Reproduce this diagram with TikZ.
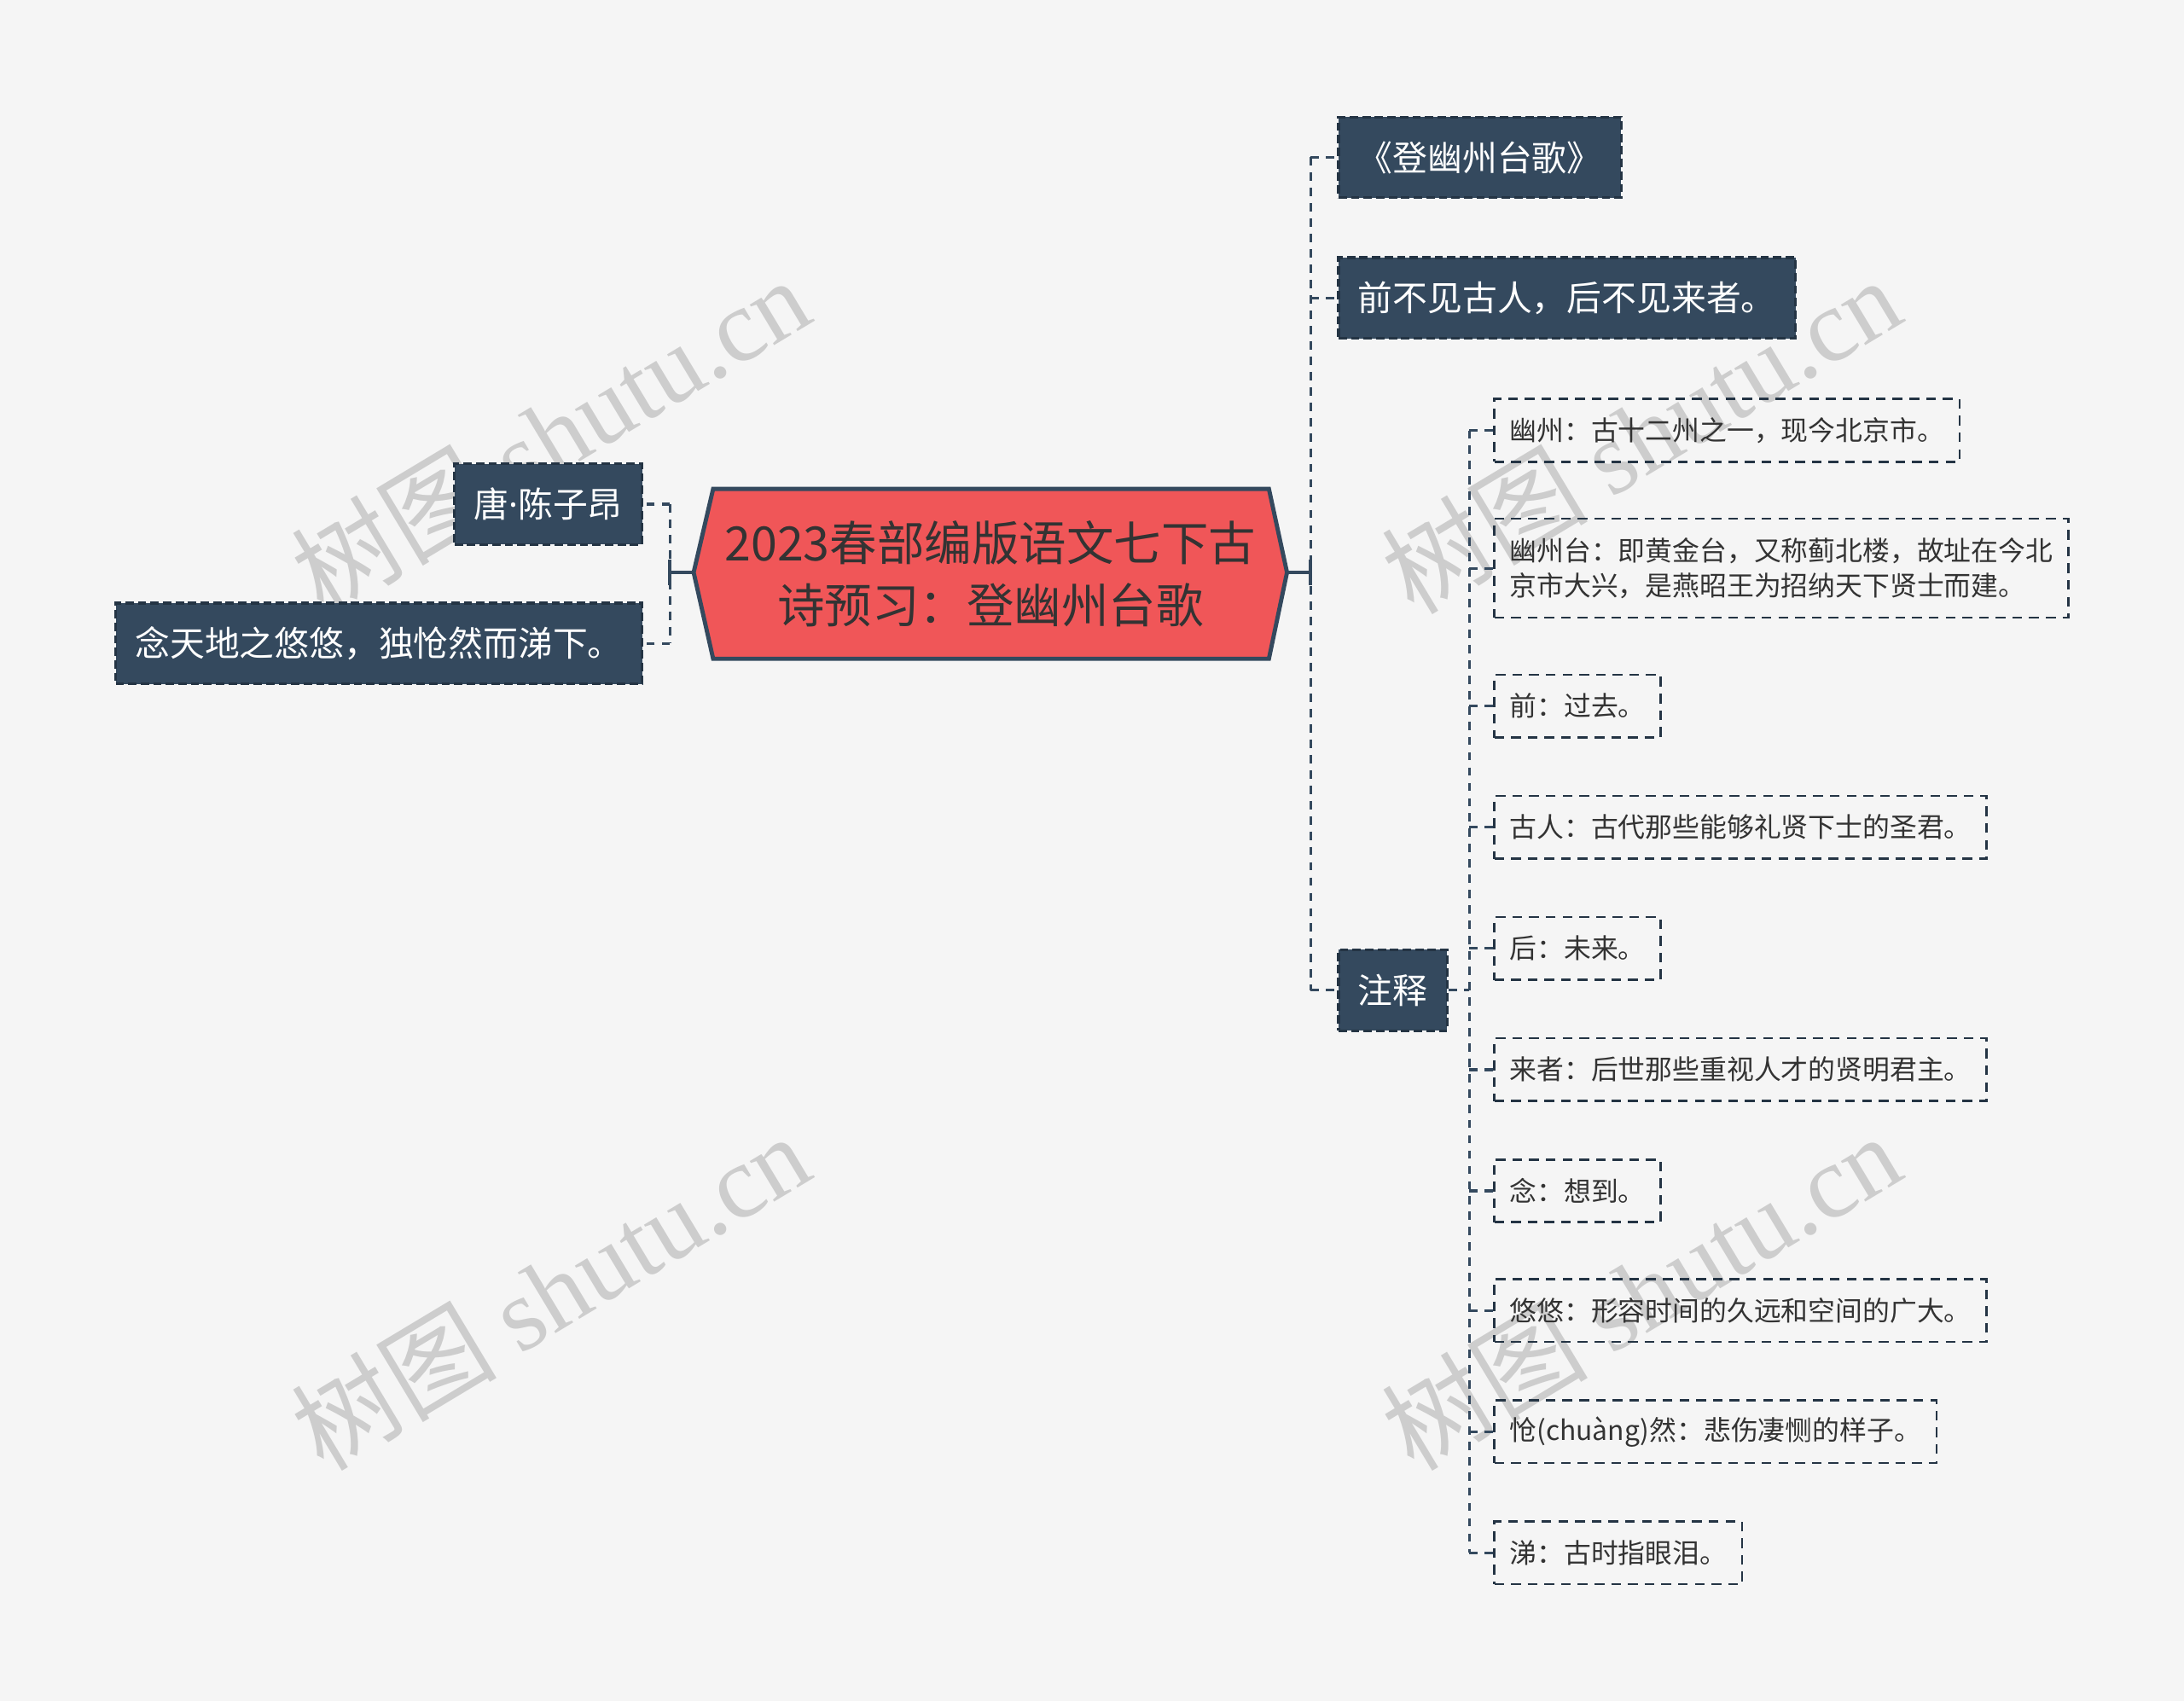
\documentclass[tikz,border=0pt]{standalone}
\usepackage{fontspec}
\setmainfont{Noto Sans CJK SC}
\newfontfamily\wmlatin{Liberation Serif}
\newfontfamily\latinsans{Noto Sans}
\usetikzlibrary{calc}
\definecolor{bgcol}{HTML}{F5F5F5}
\definecolor{navy}{HTML}{34495E}
\definecolor{navyline}{HTML}{243444}
\definecolor{rootred}{HTML}{F05658}
\definecolor{txtdark}{HTML}{333333}
\definecolor{wmcol}{HTML}{CDCDCD}
\tikzset{
  darkbox/.style={fill=navy, draw=navyline, line width=2pt, dash pattern=on 6pt off 3pt,
    text=white, font=\fontsize{25}{29}\selectfont, minimum height=58pt,
    inner xsep=14pt, inner ysep=0pt},
  notebox/.style={draw=navyline, line width=1.6pt, dash pattern=on 7pt off 5pt,
    text=txtdark, font=\fontsize{19.5}{25}\selectfont, minimum height=45pt,
    inner xsep=11pt, inner ysep=0pt, align=left},
  conn/.style={draw=navy, line width=2pt, dash pattern=on 6pt off 5pt},
  solidconn/.style={draw=navy, line width=2.5pt},
  rootshape/.style={fill=rootred, draw=navy, line width=3pt, line join=miter},
  roottext/.style={text=txtdark, font=\fontsize{34}{45}\selectfont, align=center},
  watermark/.style={text=wmcol, font=\fontsize{74}{80}\selectfont, rotate=31, inner sep=0pt}
}
\begin{document}
\begin{tikzpicture}[x=1pt,y=-1pt]
\fill[bgcol] (0,0) rectangle (1568,1221);
\useasboundingbox (0,0) rectangle (1568,1221);

% watermarks
\node[watermark] (wm1) at (395,312) {树图 {\wmlatin shutu.cn}};
\node[watermark] (wm2) at (395,927) {树图 {\wmlatin shutu.cn}};
\node[watermark] (wm3) at (1178,312) {树图 {\wmlatin shutu.cn}};
\node[watermark] (wm4) at (1178,927) {树图 {\wmlatin shutu.cn}};

% root
\coordinate (rootL) at (498,411);
\coordinate (rootR) at (924,411);
\draw[rootshape] (rootL) -- (512,351) -- (911,351) -- (rootR) -- (911,473) -- (512,473) -- cycle;
\node[roottext] (root) at (711,412) {2023春部编版语文七下古\\诗预习：登幽州台歌};

% left nodes
\node[darkbox, anchor=east] (a1) at (462,362) {唐{\latinsans ·}陈子昂};
\node[darkbox, anchor=east] (a2) at (462,462) {念天地之悠悠，独怆然而涕下。};

% right nodes
\node[darkbox, anchor=west] (b1) at (960,113) {《登幽州台歌》};
\node[darkbox, anchor=west] (b2) at (960,214) {前不见古人，后不见来者。};
\node[darkbox, anchor=west] (b3) at (960,711) {注释};

% notes
\node[notebox, anchor=west] (c1) at (1072,309) {幽州：古十二州之一，现今北京市。};
\node[notebox, anchor=west, minimum height=71pt] (c2) at (1072,408) {幽州台：即黄金台，又称蓟北楼，故址在今北\\京市大兴，是燕昭王为招纳天下贤士而建。};
\node[notebox, anchor=west] (c3) at (1072,507) {前：过去。};
\node[notebox, anchor=west] (c4) at (1072,594) {古人：古代那些能够礼贤下士的圣君。};
\node[notebox, anchor=west] (c5) at (1072,681) {后：未来。};
\node[notebox, anchor=west] (c6) at (1072,768) {来者：后世那些重视人才的贤明君主。};
\node[notebox, anchor=west] (c7) at (1072,855) {念：想到。};
\node[notebox, anchor=west] (c8) at (1072,941) {悠悠：形容时间的久远和空间的广大。};
\node[notebox, anchor=west] (c9) at (1072,1028) {怆(chuàng)然：悲伤凄恻的样子。};
\node[notebox, anchor=west] (c10) at (1072,1115) {涕：古时指眼泪。};

% left connectors
\coordinate (lj) at (481,411);
\draw[solidconn] (rootL) -- (lj);
\draw[solidconn] ($(lj)+(0,-9)$) -- ($(lj)+(0,9)$);
\draw[conn] (lj |- a1.east) -- (lj |- a2.east);
\draw[conn] (lj |- a1.east) -- (a1.east);
\draw[conn] (lj |- a2.east) -- (a2.east);

% right connectors
\coordinate (rj) at (941,411);
\draw[solidconn] (rootR) -- (rj);
\draw[solidconn] ($(rj)+(0,-9)$) -- ($(rj)+(0,9)$);
\draw[conn] (rj |- b1.west) -- (rj |- b3.west);
\foreach \n in {b1,b2,b3} \draw[conn] (rj |- \n.west) -- (\n.west);

% notes connectors
\coordinate (nj) at (1055,711);
\draw[conn] (b3.east) -- (nj);
\draw[conn] (nj |- c1.west) -- (nj |- c10.west);
\foreach \n in {c1,c2,c3,c4,c5,c6,c7,c8,c9,c10} \draw[conn] (nj |- \n.west) -- (\n.west);
\end{tikzpicture}
\end{document}
